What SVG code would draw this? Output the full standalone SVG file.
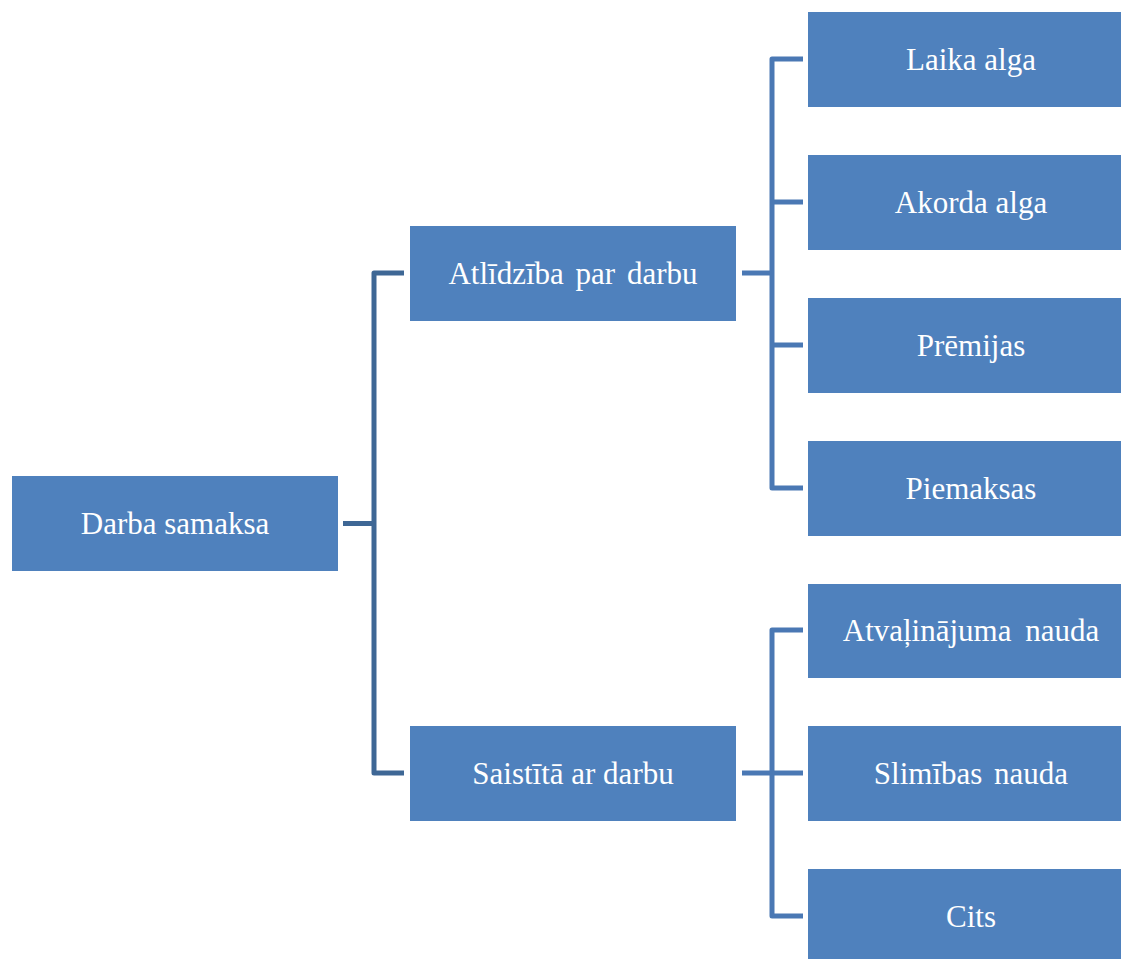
<svg xmlns="http://www.w3.org/2000/svg" width="1121" height="959" viewBox="0 0 1121 959">
<style>
.box{fill:#4f81bd;}
.lbl{font-family:'Liberation Serif','Times New Roman','DejaVu Serif',serif;font-size:31px;fill:#ffffff;text-anchor:middle;}
.c1{fill:none;stroke:#3e6795;stroke-width:5;stroke-linejoin:round;}
.c2{fill:none;stroke:#4a78b4;stroke-width:5;stroke-linejoin:round;}
</style>
<rect width="1121" height="959" fill="#ffffff"/>
<g id="connectors">
<path class="c1" d="M343 523.5H374M404 273H374V773H404"/>
<path class="c2" d="M742 273H772M803 59H772V488H803M772 202H803M772 345H803"/>
<path class="c2" d="M742 773H803M803 630H772V916H803"/>
</g>
<g id="n-root"><rect class="box" x="12" y="476" width="326" height="95"/><text class="lbl" x="175" y="534">Darba samaksa</text></g>
<g id="n-atl"><rect class="box" x="410" y="226" width="326" height="95"/><text class="lbl" x="573" y="284" word-spacing="4">Atlīdzība par darbu</text></g>
<g id="n-sai"><rect class="box" x="410" y="726" width="326" height="95"/><text class="lbl" x="573" y="784">Saistītā ar darbu</text></g>
<g id="n-laika"><rect class="box" x="808" y="12" width="313" height="95"/><text class="lbl" x="971" y="70">Laika alga</text></g>
<g id="n-akorda"><rect class="box" x="808" y="155" width="313" height="95"/><text class="lbl" x="971" y="213">Akorda alga</text></g>
<g id="n-premijas"><rect class="box" x="808" y="298" width="313" height="95"/><text class="lbl" x="971" y="356">Prēmijas</text></g>
<g id="n-piemaksas"><rect class="box" x="808" y="441" width="313" height="95"/><text class="lbl" x="971" y="499">Piemaksas</text></g>
<g id="n-atval"><rect class="box" x="808" y="584" width="313" height="94"/><text class="lbl" x="971" y="641" word-spacing="6">Atvaļinājuma nauda</text></g>
<g id="n-slim"><rect class="box" x="808" y="726" width="313" height="95"/><text class="lbl" x="971" y="784" word-spacing="4">Slimības nauda</text></g>
<g id="n-cits"><rect class="box" x="808" y="869" width="313" height="90"/><text class="lbl" x="971" y="927">Cits</text></g>
</svg>
